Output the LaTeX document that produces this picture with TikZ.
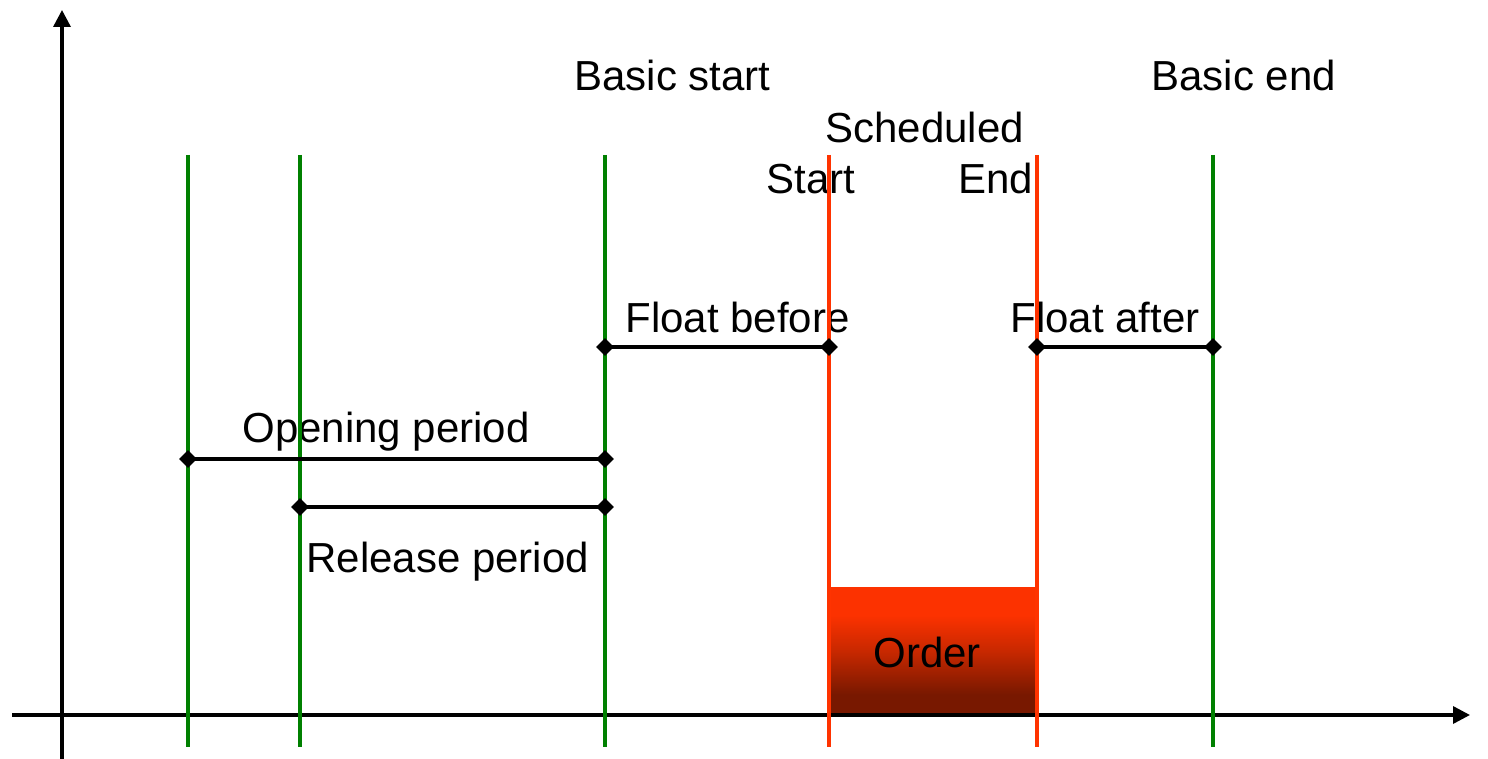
\documentclass[tikz,border=0pt]{standalone}
\usepackage{fontspec}
\setmainfont{Liberation Sans}
\usetikzlibrary{arrows.meta,shapes.geometric}
\definecolor{lgreen}{RGB}{0,128,0}
\definecolor{lred}{RGB}{255,51,0}
\definecolor{ordtop}{RGB}{252,50,0}
\definecolor{ordmid}{RGB}{200,40,0}
\definecolor{ordbot}{RGB}{120,24,0}
\pgfdeclareverticalshading{ordershade}{100bp}{color(0bp)=(ordbot); color(33bp)=(ordbot); color(50bp)=(ordmid); color(64bp)=(ordtop); color(100bp)=(ordtop)}
\begin{document}
\begin{tikzpicture}[x=0.5pt,y=-0.5pt,
  lbl/.style={anchor=base west,inner sep=0pt,font=\fontsize{21pt}{25pt}\selectfont},
  axisline/.style={line width=1.7pt,-{Triangle[width=8.5pt,length=8.5pt]}},
  greenline/.style={line width=1.7pt,draw=lgreen},
  redline/.style={line width=1.7pt,draw=lred},
  dia/.style={diamond,fill=black,inner sep=0pt,minimum size=9pt},
  span/.style={line width=1.6pt}]
\useasboundingbox (0,0) rectangle (1488,759);
% order box
\shade[shading=ordershade] (829,587) rectangle (1037,715);
% axes
\coordinate (yb) at (62,759);
\coordinate (yt) at (62,10);
\coordinate (xl) at (12,715);
\coordinate (xr) at (1470,715);
\draw[axisline] (yb) -- (yt);
\draw[axisline] (xl) -- (xr);
% labels
\node[lbl] (bs) at (574,91) {Basic start};
\node[lbl] (be) at (1151,91) {Basic end};
\node[lbl] (sch) at (825,143) {Scheduled};
\node[lbl] (st) at (766,194) {Start};
\node[lbl] (en) at (958,194) {End};
\node[lbl] (fb) at (625,332) {Float before};
\node[lbl] (fa) at (1010,332) {Float after};
\node[lbl] (op) at (242,442) {Opening period};
\node[lbl] (rp) at (306,572) {Release period};
\node[lbl] (ord) at (873,667) {Order};
% vertical lines
\foreach \n/\x in {g1/188,g2/300,g3/605,g4/1213}{
  \coordinate (\n t) at (\x,155);
  \coordinate (\n b) at (\x,747);
  \draw[greenline] (\n t) -- (\n b);
}
\foreach \n/\x in {r1/829,r2/1037}{
  \coordinate (\n t) at (\x,155);
  \coordinate (\n b) at (\x,747);
  \draw[redline] (\n t) -- (\n b);
}
% spans
\node[dia] (fb1) at (605,347) {};
\node[dia] (fb2) at (829,347) {};
\node[dia] (fa1) at (1037,347) {};
\node[dia] (fa2) at (1213,347) {};
\node[dia] (op1) at (188,459) {};
\node[dia] (op2) at (605,459) {};
\node[dia] (rp1) at (300,507) {};
\node[dia] (rp2) at (605,507) {};
\draw[span] (fb1.center) -- (fb2.center);
\draw[span] (fa1.center) -- (fa2.center);
\draw[span] (op1.center) -- (op2.center);
\draw[span] (rp1.center) -- (rp2.center);
\end{tikzpicture}
\end{document}
